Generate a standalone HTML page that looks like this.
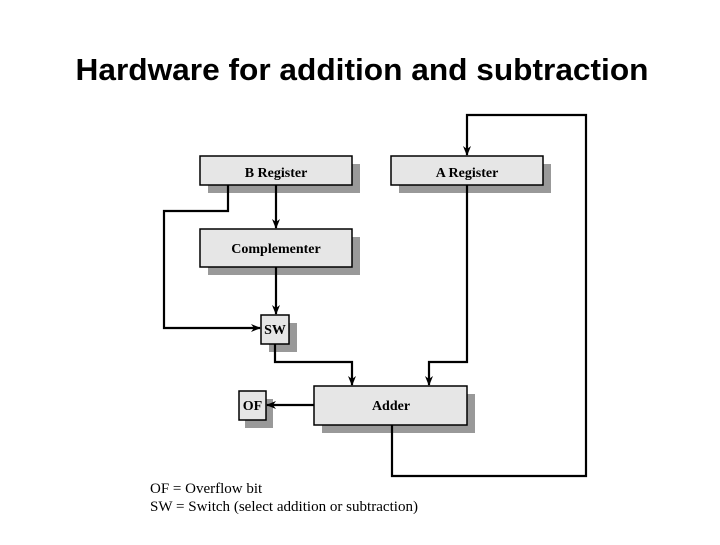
<!DOCTYPE html>
<html><head><meta charset="utf-8"><style>html,body{margin:0;padding:0;background:#fff;}</style></head>
<body>
<svg width="720" height="540" viewBox="0 0 720 540" xmlns="http://www.w3.org/2000/svg">
<defs>
<marker id="ar" markerWidth="10" markerHeight="8" refX="9" refY="4" orient="auto" markerUnits="userSpaceOnUse">
<path d="M0,0 L10,4 L0,8 L3,4 z" fill="#000"/>
</marker>
</defs>
<text x="362" y="80" text-anchor="middle" font-family="Liberation Sans, sans-serif" font-weight="bold" font-size="31" textLength="573" lengthAdjust="spacingAndGlyphs">Hardware for addition and subtraction</text>
<g fill="#999">
<rect x="208" y="164" width="152" height="29"/>
<rect x="399" y="164" width="152" height="29"/>
<rect x="208" y="237" width="152" height="38"/>
<rect x="269" y="323" width="28" height="29"/>
<rect x="322" y="394" width="153" height="39"/>
<rect x="245" y="399" width="28" height="29"/>
</g>
<g fill="#e6e6e6" stroke="#000" stroke-width="1.5">
<rect x="200" y="156" width="152" height="29"/>
<rect x="391" y="156" width="152" height="29"/>
<rect x="200" y="229" width="152" height="38"/>
<rect x="261" y="315" width="28" height="29"/>
<rect x="314" y="386" width="153" height="39"/>
<rect x="239" y="391" width="27" height="29"/>
</g>
<g font-family="Liberation Serif, serif" font-weight="bold" font-size="14" text-anchor="middle">
<text x="276" y="177">B Register</text>
<text x="467" y="177">A Register</text>
<text x="276" y="253">Complementer</text>
<text x="275" y="334">SW</text>
<text x="391" y="410">Adder</text>
<text x="252.5" y="410">OF</text>
</g>
<g fill="none" stroke="#000" stroke-width="2.2">
<path d="M276,185 V228" marker-end="url(#ar)"/>
<path d="M228,185 V211 H164 V328 H260" marker-end="url(#ar)"/>
<path d="M276,267 V314" marker-end="url(#ar)"/>
<path d="M275,344 V362 H352 V385" marker-end="url(#ar)"/>
<path d="M467,185 V362 H429 V385" marker-end="url(#ar)"/>
<path d="M314,405 H267" marker-end="url(#ar)"/>
<path d="M392,425 V476 H586 V115 H467 V155" marker-end="url(#ar)"/>
</g>
<g font-family="Liberation Serif, serif" font-size="15">
<text x="150" y="493">OF = Overflow bit</text>
<text x="150" y="511" textLength="268" lengthAdjust="spacingAndGlyphs">SW = Switch (select addition or subtraction)</text>
</g>
</svg>
</body></html>
